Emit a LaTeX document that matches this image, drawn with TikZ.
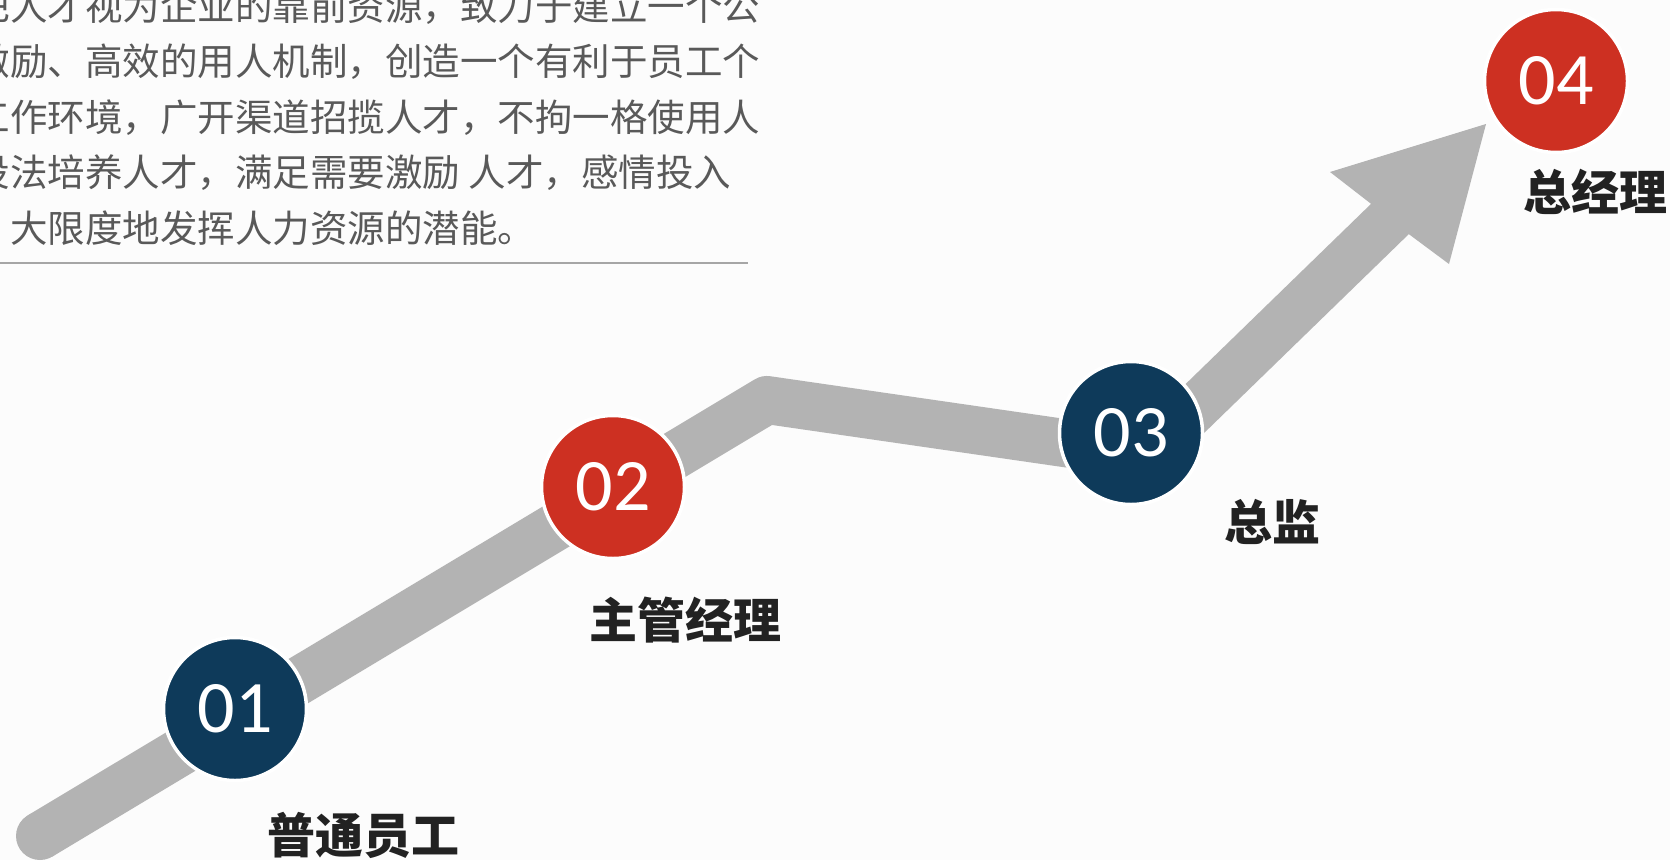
\documentclass[tikz,border=0pt]{standalone}
\usepackage{fontspec}
\newfontfamily\cjk{Noto Sans CJK SC}
\newfontfamily\numfont{Carlito}
\definecolor{bgc}{HTML}{FCFCFC}
\definecolor{band}{HTML}{B3B3B3}
\definecolor{navy}{HTML}{0E3A5A}
\definecolor{redc}{HTML}{CD3022}
\definecolor{para}{HTML}{595959}
\definecolor{lbl}{HTML}{222222}
\definecolor{rulec}{HTML}{A6A6A6}
\begin{document}
\begin{tikzpicture}[x=1pt,y=-1pt,
  stage/.style={circle,minimum size=143pt,inner sep=0pt,draw=white,line width=3.5pt,text=white,font=\numfont\fontsize{74pt}{74pt}\selectfont},
  navystage/.style={stage,fill=navy},
  redstage/.style={stage,fill=redc},
  lab/.style={anchor=base,text=lbl,inner sep=0pt,font=\cjk\bfseries\fontsize{48pt}{48pt}\selectfont},
  ptext/.style={anchor=base west,inner sep=0pt,text=para,font=\cjk\fontsize{37.5pt}{37.5pt}\selectfont},
  bandline/.style={draw=band,line width=48pt,line join=round,line cap=butt}
]
\clip (0,0) rectangle (1670,860);
\fill[bgc] (0,0) rectangle (1670,860);

% paragraph (clipped at the left edge)
\node[ptext] (p1) at (-27.5,20) {把人才视为企业的靠前资源，致力于建立一个公};
\node[ptext] (p2) at (-27.5,75.5) {激励、高效的用人机制，创造一个有利于员工个};
\node[ptext] (p3) at (-27.5,131) {工作环境，广开渠道招揽人才，不拘一格使用人};
\node[ptext] (p4) at (-27.5,186.5) {设法培养人才，满足需要激励 人才，感情投入};
\node[ptext] (p5) at (10,242) {大限度地发挥人力资源的潜能。};
\coordinate (r1) at (0,263);
\coordinate (r2) at (748,263);
\draw[rulec,line width=2pt] (r1) -- (r2);

% growth band with arrow
\coordinate (s) at (40,836);
\coordinate (k1) at (767,400);
\coordinate (k2) at (1147,455);
\coordinate (sh) at (1393,216);
\coordinate (n1) at (1370,203);
\coordinate (b1) at (1330,172);
\coordinate (tip) at (1486,124);
\coordinate (b2) at (1449,264);
\coordinate (n2) at (1410,235);
\fill[band] (s) circle (24);
\draw[bandline] (s) -- (k1) -- (k2) -- (sh);
\fill[band] (n1) -- (b1) -- (tip) -- (b2) -- (n2) -- cycle;

% stages
\node[navystage] (c1) at (235,709) {01};
\node[redstage] (c2) at (613,487) {02};
\node[navystage] (c3) at (1131,433) {03};
\node[redstage] (c4) at (1556,81) {04};

% labels
\node[lab] (l1) at (363,853) {普通员工};
\node[lab] (l2) at (685,638) {主管经理};
\node[lab] (l3) at (1272,540) {总监};
\node[lab] (l4) at (1595,210) {总经理};
\end{tikzpicture}
\end{document}
